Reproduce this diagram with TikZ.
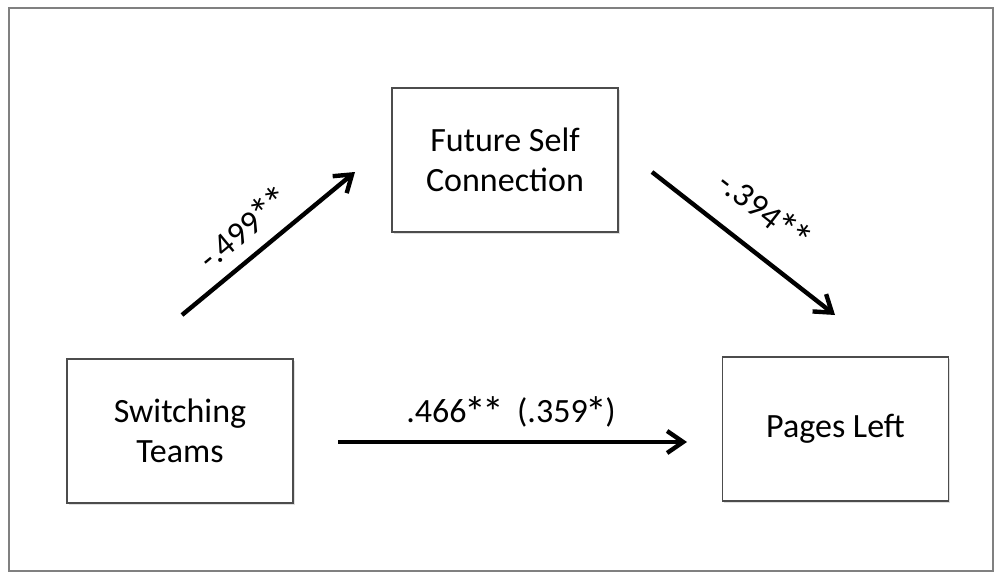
\documentclass[tikz,border=0pt]{standalone}
\usepackage{fontspec}
\setmainfont{Carlito}
\usetikzlibrary{arrows.meta,shadows}
\newcommand\stt{\kern-0.06em\raisebox{-0.13em}{\scalebox{1.28}{*}}\kern-0.06em}
\begin{document}
\begin{tikzpicture}[x=0.5pt,y=-0.5pt,
  varbox/.style={draw=black!70, line width=0.6pt, fill=white,
    minimum width=113pt, minimum height=72pt, inner sep=0pt, align=center,
    font=\fontsize{17}{20}\selectfont,
    drop shadow={shadow xshift=0.8pt, shadow yshift=-0.8pt, opacity=0.25, fill=black!50}},
  coef/.style={font=\fontsize{17}{20}\selectfont, inner sep=0pt},
  effect/.style={line width=2.2pt, -{Straight Barb[length=8pt,width=11pt]}}]
\useasboundingbox (0,0) rectangle (995,573);
\draw[black!50, line width=1pt] (9,8) rectangle (993,571);
\node[varbox] (fsc) at (505,160) {Future Self\\Connection};
\node[varbox] (st) at (180,431) {Switching\\Teams};
\node[varbox] (pl) at (835.5,429) {Pages Left};
\coordinate (a1s) at (182,315);
\coordinate (a1e) at (355,172);
\coordinate (a2s) at (652,172);
\coordinate (a2e) at (835,315);
\coordinate (a3s) at (338,442);
\coordinate (a3e) at (687,442);
\draw[effect] (a1s) -- (a1e);
\draw[effect] (a2s) -- (a2e);
\draw[effect] (a3s) -- (a3e);
\node[coef, rotate=39.6] (c1) at (244,229) {-.499\stt\stt};
\node[coef, rotate=-38] (c2) at (764,211) {-.394\stt\stt};
\node[coef] (c3) at (511,412) {.466\stt\stt\ \ (.359\stt)};
\end{tikzpicture}
\end{document}
